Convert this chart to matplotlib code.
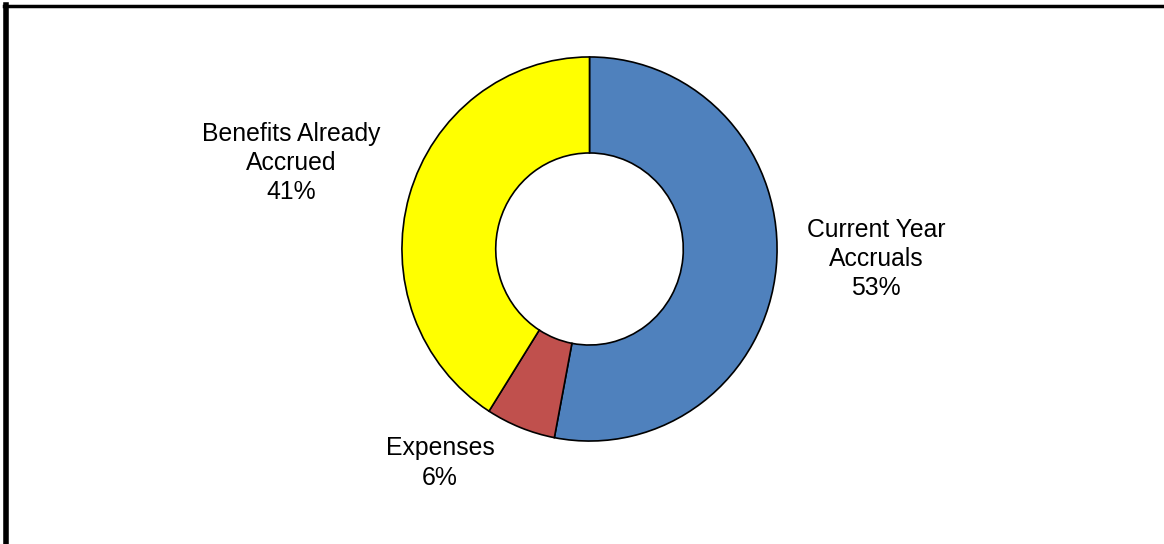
import matplotlib
matplotlib.use("Agg")
import matplotlib.pyplot as plt
from matplotlib.lines import Line2D

plt.rcParams['font.family'] = ['Liberation Sans', 'DejaVu Sans']

categories = ["Current Year\nAccruals", "Expenses", "Benefits Already\nAccrued"]
values = [53, 6, 41]
colors = ["#4F81BD", "#C0504D", "#FFFF00"]

W, H = 1164, 544
fig = plt.figure(figsize=(W / 100, H / 100), dpi=100)

# donut axes placed in pixel-derived figure fractions
x0, x1, y0, y1 = 401, 778, 56, 442
ax = fig.add_axes([x0 / W, 1 - y1 / H, (x1 - x0) / W, (y1 - y0) / H])
ax.pie(values, colors=colors, startangle=90, counterclock=False, radius=1,
       wedgeprops=dict(width=0.5, edgecolor="black", linewidth=1.2))
ax.set_aspect('auto')
ax.set_xlim(-1.005, 1.005)
ax.set_ylim(-1.005, 1.005)
ax.axis('off')

label_pos = [(876, 259), (440, 463), (291, 163)]
for cat, v, (px, py) in zip(categories, values, label_pos):
    fig.text(px / W, 1 - py / H, f"{cat}\n{v}%", ha="center", va="center",
             fontsize=17.8, linespacing=1.28, color="black")

# border lines (top and left)
fig.add_artist(Line2D([4 / W, 1], [1 - 6 / H, 1 - 6 / H], color="black",
                      linewidth=2.5, transform=fig.transFigure))
fig.add_artist(Line2D([5.5 / W, 5.5 / W], [0, 1 - 5 / H], color="black",
                      linewidth=4, transform=fig.transFigure))

fig.savefig("out.png", dpi=100)
